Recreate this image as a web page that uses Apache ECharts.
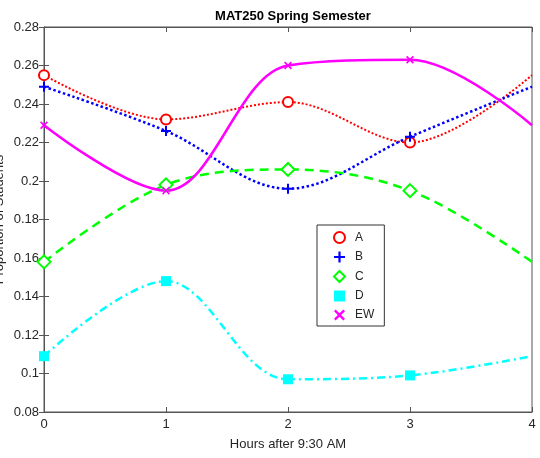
<!DOCTYPE html>
<html>
<head>
<meta charset="utf-8">
<script src="https://cdn.jsdelivr.net/npm/echarts@6/dist/echarts.min.js"></script>
<style>
  html, body { margin: 0; padding: 0; background: #fff; }
  #chart { width: 540px; height: 458px; }
</style>
</head>
<body>
<div id="chart"></div>
<script>
// hours after 9:30; the curve at 4 closes back onto the value at 0
const hours = [0, 1, 2, 3, 4];
const seriesA = [0.255, 0.232, 0.241, 0.220, 0.255];
const seriesB = [0.249, 0.226, 0.196, 0.223, 0.249];
const seriesC = [0.158, 0.198, 0.206, 0.195, 0.158];
const seriesD = [0.109, 0.148, 0.097, 0.099, 0.109];
const seriesEW = [0.229, 0.195, 0.260, 0.263, 0.229];
const xTicks = [0, 1, 2, 3, 4];
const yTicks = [0.08, 0.1, 0.12, 0.14, 0.16, 0.18, 0.2, 0.22, 0.24, 0.26, 0.28];

const PLUS = 'path://M4,0H6V4H10V6H6V10H4V6H0V4H4Z';
const CROSS = 'path://M1.5,0L5,3.5L8.5,0L10,1.5L6.5,5L10,8.5L8.5,10L5,6.5L1.5,10L0,8.5L3.5,5L0,1.5Z';
const textColor = '#262626';

// marks at the measured hours only, none at the closing point
function pts(vals) {
  return vals.map((v, i) => (i === vals.length - 1
    ? { value: [hours[i], v], symbol: 'none' }
    : [hours[i], v]));
}

function makeSeries(name, vals, color, lineType, symbol, size, width, filled) {
  return {
    name: name,
    type: 'line',
    smooth: 0.35,
    data: pts(vals),
    symbol: symbol,
    symbolSize: size,
    showAllSymbol: true,
    lineStyle: { color: color, width: width, type: lineType },
    itemStyle: filled
      ? { color: color, borderWidth: 0 }
      : { color: color, borderColor: color, borderWidth: 2 },
    z: 3
  };
}

const chart = echarts.init(document.getElementById('chart'));
chart.setOption({
  animation: false,
  backgroundColor: '#fff',
  textStyle: { fontFamily: 'Liberation Sans, Arial, sans-serif' },
  title: {
    text: 'MAT250 Spring Semester',
    left: 288,
    textAlign: 'center',
    top: 5,
    textStyle: { fontSize: 13, fontWeight: 'bold', color: '#000' }
  },
  grid: {
    left: 44, right: 8, top: 27, bottom: 46,
    outerBoundsMode: 'none', containLabel: false,
    show: true, borderColor: '#555', borderWidth: 1
  },
  legend: {
    orient: 'vertical',
    left: 317,
    top: 225,
    padding: [6, 10, 5, 16],
    borderColor: '#333',
    borderWidth: 1,
    backgroundColor: '#fff',
    itemWidth: 11,
    itemHeight: 11,
    itemGap: 7,
    textStyle: { fontSize: 12, color: textColor, padding: [0, 0, 0, 5] },
    data: [
      { name: 'A', icon: 'emptyCircle' },
      { name: 'B', icon: PLUS },
      { name: 'C', icon: 'emptyDiamond' },
      { name: 'D', icon: 'rect' },
      { name: 'EW', icon: CROSS }
    ]
  },
  xAxis: [{
    type: 'value',
    min: 0, max: 4, interval: 1,
    name: 'Hours after 9:30 AM',
    nameLocation: 'middle',
    nameGap: 26,
    nameMoveOverlap: false,
    nameTextStyle: { fontSize: 13, color: textColor },
    axisLine: { show: true, lineStyle: { color: '#555' } },
    axisTick: { show: true, inside: true, length: 5, lineStyle: { color: '#555' } },
    axisLabel: { fontSize: 13, color: textColor, margin: 6, formatter: v => xTicks.includes(v) ? String(v) : '' },
    splitLine: { show: false }
  }, {
    type: 'value', position: 'top',
    min: 0, max: 4, interval: 1,
    axisLine: { show: true, lineStyle: { color: '#555' } },
    axisTick: { show: true, inside: true, length: 5, lineStyle: { color: '#555' } },
    axisLabel: { show: false },
    splitLine: { show: false }
  }],
  yAxis: [{
    type: 'value',
    min: 0.08, max: 0.28, interval: 0.02,
    name: 'Proportion of Students',
    nameLocation: 'middle',
    nameGap: 38,
    nameMoveOverlap: false,
    nameTextStyle: { fontSize: 13, color: textColor },
    axisLine: { show: true, lineStyle: { color: '#555' } },
    axisTick: { show: true, inside: true, length: 5, lineStyle: { color: '#555' } },
    axisLabel: {
      fontSize: 13, color: textColor, margin: 5,
      formatter: v => {
        const r = +v.toFixed(2);
        return yTicks.includes(r) ? String(r) : '';
      }
    },
    splitLine: { show: false }
  }, {
    type: 'value', position: 'right',
    min: 0.08, max: 0.28, interval: 0.02,
    axisLine: { show: true, lineStyle: { color: '#555' } },
    axisTick: { show: true, inside: true, length: 5, lineStyle: { color: '#555' } },
    axisLabel: { show: false },
    splitLine: { show: false }
  }],
  series: [
    makeSeries('A', seriesA, '#ff0000', 'dotted', 'emptyCircle', 10, 2, false),
    makeSeries('B', seriesB, '#0000ff', 'dotted', PLUS, 10, 2.5, true),
    makeSeries('C', seriesC, '#00ff00', [9, 6], 'emptyDiamond', 13, 2.5, false),
    makeSeries('D', seriesD, '#00ffff', [8, 4, 2, 4], 'rect', 10, 2.5, true),
    makeSeries('EW', seriesEW, '#ff00ff', 'solid', CROSS, 8, 2.5, true)
  ]
});
</script>
</body>
</html>
